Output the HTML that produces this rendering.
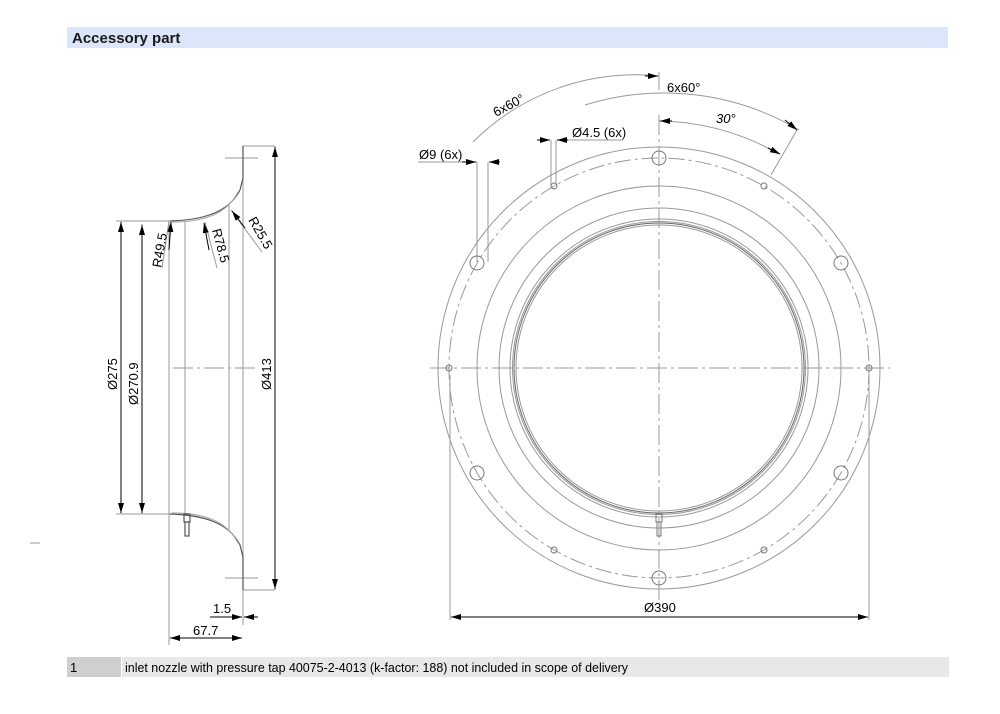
<!DOCTYPE html>
<html><head><meta charset="utf-8"><style>
html,body{margin:0;padding:0;background:#fff;}
svg{display:block;font-family:"Liberation Sans",Arial,sans-serif;}
</style></head><body>
<svg width="1000" height="714" viewBox="0 0 1000 714" xmlns="http://www.w3.org/2000/svg">
<defs>
<marker id="a" viewBox="0 0 10 6" refX="10" refY="3" markerWidth="10" markerHeight="6" orient="auto-start-reverse" markerUnits="userSpaceOnUse"><path d="M0,0 L10,3 L0,6 z" fill="#000"/></marker>
</defs>
<rect x="67" y="27" width="881" height="21" fill="#dbe6fa"/>
<text x="72" y="43" font-size="15" font-weight="bold" fill="#1a1a1a">Accessory part</text>

<!-- LEFT PROFILE -->
<g stroke="#999" stroke-width="1" fill="none">
<line x1="121" y1="221" x2="121" y2="514"/>
<line x1="142" y1="224" x2="142" y2="514"/>
<line x1="169" y1="221" x2="169" y2="645"/>
<line x1="185" y1="221" x2="185" y2="514"/>
<line x1="229" y1="205" x2="229" y2="530"/>
<line x1="243" y1="146" x2="243" y2="625"/>
<line x1="275" y1="146" x2="275" y2="590"/>
<line x1="243" y1="146" x2="275" y2="146"/>
<line x1="243" y1="590" x2="275" y2="590"/>
<line x1="116" y1="221" x2="170" y2="221"/>
<line x1="116" y1="514" x2="170" y2="514"/>
<line x1="225" y1="158" x2="258" y2="158"/>
<line x1="225" y1="578" x2="258" y2="578"/>
<line x1="173" y1="368" x2="255" y2="368" stroke-dasharray="20,4,3,4"/>
<line x1="169" y1="221" x2="162" y2="268"/>
<line x1="205" y1="222" x2="217" y2="268"/>
<line x1="231" y1="210" x2="262" y2="252"/>
</g>
<g stroke="#555" stroke-width="1.2" fill="none">
<path d="M170,221 C200,220 228,214 240,190 L243,178 L243,146"/>
<path d="M170,514 C200,515 228,521 240,545 L243,557 L243,590"/>
<path d="M172,222 C200,222 226,216 238,192" stroke="#aaa"/>
<path d="M172,513 C200,513 226,519 238,543" stroke="#aaa"/>
<rect x="184" y="514" width="6" height="8"/>
<rect x="185" y="522" width="4" height="14"/>
</g>
<g stroke="#000" stroke-width="1" fill="none">
<line x1="121" y1="222" x2="121" y2="513" marker-start="url(#a)" marker-end="url(#a)"/>
<line x1="142" y1="225" x2="142" y2="513" marker-start="url(#a)" marker-end="url(#a)"/>
<line x1="275" y1="147" x2="275" y2="589" marker-start="url(#a)" marker-end="url(#a)"/>
<line x1="170" y1="638" x2="242" y2="638" marker-start="url(#a)" marker-end="url(#a)"/>
<line x1="210" y1="617" x2="242" y2="617" marker-end="url(#a)"/>
<line x1="258" y1="617" x2="244" y2="617" marker-end="url(#a)"/>
<line x1="169" y1="250" x2="171" y2="222" marker-end="url(#a)"/>
<line x1="209" y1="250" x2="204" y2="223" marker-end="url(#a)"/>
<line x1="245" y1="228" x2="232" y2="211" marker-end="url(#a)"/>
</g>
<g font-size="13" fill="#000">
<text transform="translate(117,390) rotate(-90)">Ø275</text>
<text transform="translate(138,405) rotate(-90)">Ø270.9</text>
<text transform="translate(271,390) rotate(-90)">Ø413</text>
<text transform="translate(161,268) rotate(-80)">R49.5</text>
<text transform="translate(212,230) rotate(75)">R78.5</text>
<text transform="translate(248,220) rotate(60)">R25.5</text>
<text x="213" y="613">1.5</text>
<text x="193" y="635">67.7</text>
</g>
<line x1="30" y1="543" x2="40" y2="543" stroke="#999"/>

<!-- RIGHT VIEW -->
<g stroke="#999" stroke-width="1" fill="none">
<circle cx="659" cy="368" r="221"/>
<circle cx="659" cy="368" r="182"/>
<circle cx="659" cy="368" r="160"/>
<circle cx="659" cy="368" r="149"/>
<circle cx="659" cy="368" r="146.5"/>
<circle cx="659" cy="368" r="145" stroke="#666"/>
<circle cx="659" cy="368" r="143"/>
<circle cx="659" cy="368" r="210" stroke-dasharray="16,4,3,4"/>
<line x1="659" y1="115" x2="659" y2="600" stroke-dasharray="20,4,3,4"/>
<line x1="430" y1="368" x2="890" y2="368" stroke-dasharray="20,4,3,4"/>
<line x1="450" y1="375" x2="450" y2="620"/>
<line x1="869" y1="375" x2="869" y2="620"/>
<line x1="659" y1="72" x2="659" y2="90"/>
<path d="M473,142 A230,230 0 0 1 659,76"/>
<path d="M585,105 A265,265 0 0 1 799,130" />
<path d="M659,121 A247,247 0 0 1 779,154"/>
<line x1="797" y1="130" x2="771" y2="175"/>
<line x1="477" y1="162" x2="477" y2="262"/>
<line x1="488" y1="162" x2="488" y2="262"/>
<line x1="551" y1="140" x2="551" y2="186"/>
<line x1="556" y1="140" x2="556" y2="186"/>
<line x1="418" y1="162" x2="477" y2="162"/>
<line x1="567" y1="140" x2="623" y2="140"/>
</g>
<g stroke="#777" stroke-width="1" fill="none">
<circle cx="659" cy="158" r="7"/><circle cx="659" cy="578" r="7"/>
<circle cx="477" cy="263" r="7"/><circle cx="841" cy="263" r="7"/>
<circle cx="477" cy="473" r="7"/><circle cx="841" cy="473" r="7"/>
<circle cx="554" cy="186" r="3"/><circle cx="764" cy="186" r="3"/>
<circle cx="449" cy="368" r="3"/><circle cx="869" cy="368" r="3"/>
<circle cx="554" cy="550" r="3"/><circle cx="764" cy="550" r="3"/>
<rect x="656" y="514" width="6" height="8"/><rect x="657" y="522" width="4" height="14"/>
</g>
<g stroke="#000" stroke-width="1" fill="none">
<line x1="451" y1="617" x2="868" y2="617" marker-start="url(#a)" marker-end="url(#a)"/>
<line x1="645" y1="76" x2="658" y2="76" marker-end="url(#a)"/>
<line x1="672" y1="121" x2="660" y2="121" marker-end="url(#a)"/>
<line x1="785" y1="120" x2="797" y2="130" marker-end="url(#a)"/>
<line x1="768" y1="148" x2="780" y2="154" marker-end="url(#a)"/>
<line x1="462" y1="162" x2="476" y2="162" marker-end="url(#a)"/>
<line x1="500" y1="162" x2="489" y2="162" marker-end="url(#a)"/>
<line x1="537" y1="140" x2="550" y2="140" marker-end="url(#a)"/>
<line x1="568" y1="140" x2="557" y2="140" marker-end="url(#a)"/>
</g>
<g font-size="13" fill="#000">
<text x="644" y="612">Ø390</text>
<text x="667" y="92">6x60°</text>
<text transform="translate(496,117) rotate(-28)">6x60°</text>
<text x="716" y="123" font-style="italic">30°</text>
<text x="419" y="159">Ø9 (6x)</text>
<text x="572" y="137">Ø4.5 (6x)</text>
</g>

<!-- FOOTER -->
<rect x="67" y="657" width="54" height="20" fill="#cfcfcf"/>
<rect x="122" y="657" width="827" height="20" fill="#e8e8e8"/>
<text x="70" y="672" font-size="13">1</text>
<text x="125" y="672" font-size="13" textLength="503" lengthAdjust="spacingAndGlyphs">inlet nozzle with pressure tap 40075-2-4013 (k-factor: 188) not included in scope of delivery</text>
</svg>
</body></html>
